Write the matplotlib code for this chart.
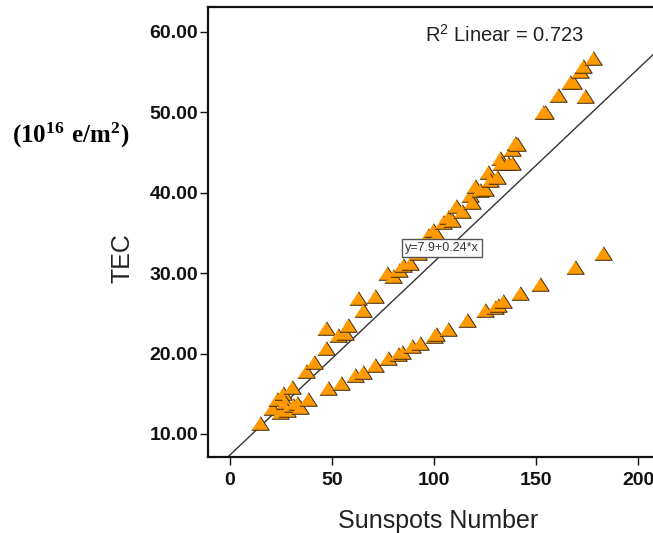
import matplotlib
matplotlib.use("Agg")
import matplotlib.pyplot as plt

# sunspot number vs TEC
sunspots = [
    14.5, 20.4, 22.9, 24.5, 26.1, 27.0, 27.8, 30.2, 31.0, 32.7, 34.3, 37.2,
    38.4, 41.0, 47.2, 47.0, 53.1, 56.4, 58.0, 62.9, 65.4, 71.0, 76.8, 80.1,
    83.0, 85.0, 88.2, 92.0, 94.0, 96.0, 97.2, 99.7, 101.3, 104.6, 107.0, 108.7,
    111.0, 113.6, 117.6, 118.5, 120.0, 122.5, 125.0, 126.6, 127.5, 130.7, 132.4,
    133.0, 136.4, 138.0, 138.0, 139.7, 140.5, 153.3, 154.4, 161.0, 166.7, 168.0,
    171.6, 173.2, 174.0, 178.1,
    48.2, 54.2, 61.3, 65.4, 71.1, 77.6, 82.5, 84.2, 89.0, 93.1, 100.0, 101.0,
    107.0, 116.0, 125.0, 129.9, 131.5, 134.0, 142.2, 152.0, 169.1, 183.0,
]
tec = [
    11.4, 13.2, 14.4, 12.7, 15.1, 14.0, 13.0, 15.9, 13.6, 13.8, 13.4, 17.8,
    14.3, 18.9, 20.7, 23.2, 22.3, 22.6, 23.6, 26.9, 25.4, 27.2, 30.0, 29.6,
    30.4, 31.0, 31.3, 32.5, 33.2, 34.0, 34.8, 35.4, 34.8, 36.4, 37.0, 36.6,
    38.3, 37.7, 39.7, 38.9, 40.8, 40.4, 40.5, 42.6, 41.6, 42.0, 44.3,
    43.7, 43.7, 43.7, 45.5, 46.2, 46.0, 50.1, 50.0, 52.2, 53.8, 53.8,
    55.1, 55.7, 52.0, 56.7,
    15.7, 16.3, 17.3, 17.7, 18.6, 19.4, 20.0, 20.2, 20.9, 21.3, 22.2, 22.4,
    23.1, 24.2, 25.4, 25.8, 26.1, 26.5, 27.5, 28.7, 30.8, 32.5,
]

# fit line as drawn in the picture (the label shows the rounded equation)
line_intercept = 7.4
line_slope = 0.24
eq_label = "y=7.9+0.24*x"
r_squared = 0.723

x_ticks = [0, 50, 100, 150, 200]
y_ticks = [10, 20, 30, 40, 50, 60]

plt.rcParams["font.family"] = ["Liberation Sans", "DejaVu Sans"]
plt.rcParams["mathtext.fontset"] = "custom"
plt.rcParams["mathtext.rm"] = "Liberation Sans"
plt.rcParams["mathtext.bf"] = "Liberation Serif:bold"

fig = plt.figure(figsize=(6.53, 5.33), dpi=100)
ax = fig.add_axes([0.3185, 0.1426, 0.7054, 0.8443])

tri = [(-1, -0.78), (1, -0.78), (0, 0.78)]
ax.plot(sunspots, tec, linestyle="none", marker=tri, markersize=12.5,
        markerfacecolor="#FF9900", markeredgecolor="#3a2a10",
        markeredgewidth=0.7, zorder=3)

ax.axline((0, line_intercept), slope=line_slope, color="#333333",
          linewidth=1.0, zorder=2)

ax.set_xlim(-10.8, 215)
ax.set_ylim(7.14, 63.1)
ax.set_xticks(x_ticks)
ax.set_yticks(y_ticks)
ax.set_xticklabels([str(v) for v in x_ticks], fontsize=14, fontweight="bold")
ax.set_yticklabels([f"{v:.2f}" for v in y_ticks], fontsize=14, fontweight="bold")
ax.tick_params(axis="x", length=6, width=1.0, pad=5, colors="#111111")
ax.tick_params(axis="y", length=6, width=1.0, pad=1, colors="#111111")

for side in ["left", "bottom", "top", "right"]:
    ax.spines[side].set_linewidth(1.6)
    ax.spines[side].set_color("#111111")

ax.set_xlabel("Sunspots Number", fontsize=18, labelpad=14, color="#222222")
fig.text(122 / 653, 1 - 258 / 533, "TEC", rotation=90, fontsize=18,
         ha="center", va="center", color="#222222")
fig.text(71 / 653, 1 - 135 / 533, r"$\mathbf{(10^{16}\ e/m^{2})}$",
         fontsize=18, ha="center", va="center")

ax.text(95.6, 59.6, f"R$^2$ Linear = {r_squared}", fontsize=14.5,
        ha="left", va="center", color="#222222")
ax.text(104, 33.1, eq_label, fontsize=9, ha="center",
        va="center", color="#333333", zorder=4,
        bbox=dict(boxstyle="square,pad=0.25", facecolor="white",
                  edgecolor="#555555", linewidth=1.0))

fig.savefig("out.png", dpi=100)
